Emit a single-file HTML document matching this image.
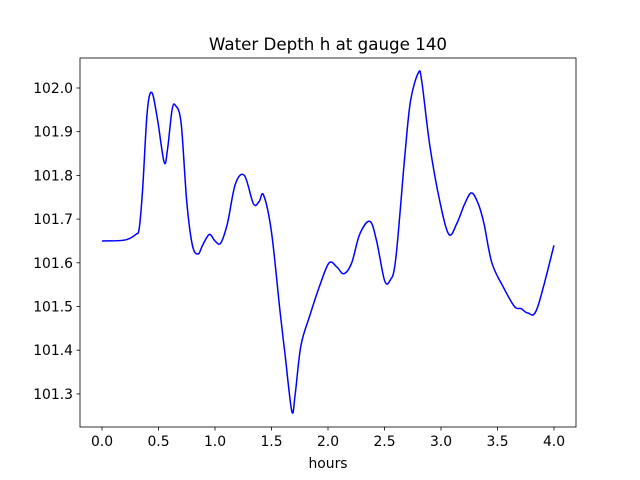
<!DOCTYPE html>
<html><head><meta charset="utf-8"><style>
body{margin:0;background:#fff;}
svg{display:block;font-family:"DejaVu Sans","Liberation Sans",sans-serif;}
</style></head><body>
<svg width="640" height="480" viewBox="0 0 640 480">
<rect x="0" y="0" width="640" height="480" fill="#fff"/>
<text x="328" y="50" text-anchor="middle" font-size="16.7">Water Depth h at gauge 140</text>
<g id="xt"></g>
<g id="yt"></g>
<path id="line" fill="none" stroke="#0000ff" stroke-width="1.5"/>
<rect x="80" y="58" width="496" height="369" fill="none" stroke="#000" stroke-width="0.8"/>
<text x="328" y="468" text-anchor="middle" font-size="13.9">hours</text>
</svg>
<script>
const hours=[0,0.2,0.3,0.33,0.36,0.4,0.44,0.49,0.55,0.58,0.62,0.65,0.7,0.75,0.8,0.85,0.89,0.95,1.0,1.05,1.11,1.18,1.26,1.34,1.39,1.43,1.5,1.575,1.62,1.68,1.71,1.76,1.84,1.93,2.01,2.08,2.14,2.21,2.28,2.37,2.43,2.5,2.55,2.6,2.68,2.73,2.8,2.83,2.9,2.99,3.07,3.14,3.21,3.27,3.33,3.38,3.45,3.55,3.65,3.71,3.77,3.85,4.0];
const depth=[101.65,101.652,101.665,101.68,101.77,101.945,101.99,101.93,101.83,101.86,101.95,101.96,101.92,101.74,101.64,101.62,101.64,101.665,101.65,101.645,101.69,101.78,101.8,101.735,101.74,101.755,101.67,101.49,101.39,101.26,101.3,101.41,101.48,101.55,101.6,101.59,101.575,101.6,101.665,101.695,101.65,101.56,101.56,101.61,101.845,101.97,102.035,102.015,101.87,101.74,101.665,101.69,101.735,101.76,101.735,101.69,101.6,101.545,101.5,101.495,101.485,101.495,101.64];
const xTicks=[0,0.5,1,1.5,2,2.5,3,3.5,4];
const yTicks=[101.3,101.4,101.5,101.6,101.7,101.8,101.9,102.0];
const X=v=>102+v*113, Y=v=>88+(102.0-v)*437;
const NS="http://www.w3.org/2000/svg";
function mk(t,a,p){const e=document.createElementNS(NS,t);for(const k in a)e.setAttribute(k,a[k]);p.appendChild(e);return e;}
const xt=document.getElementById('xt'),yt=document.getElementById('yt');
xTicks.forEach(v=>{
 const l=mk('line',{x1:X(v),x2:X(v),y1:427,y2:430.5,stroke:'#000','stroke-width':0.8},xt);
 
 
 const t=mk('text',{x:X(v),y:446,'text-anchor':'middle','font-size':13.9},xt);
 
 
 t.textContent=v.toFixed(1);
});
yTicks.forEach(v=>{
 const l=mk('line',{x1:76.5,x2:80,y1:Y(v),y2:Y(v),stroke:'#000','stroke-width':0.8},yt);
 
 
 const t=mk('text',{x:73,y:Y(v)+5,'text-anchor':'end','font-size':13.9},yt);
 
 
 t.textContent=v.toFixed(1);
});
const P=hours.map((h,i)=>[X(h),Y(depth[i])]);
let d='M'+P[0][0]+','+P[0][1];
for(let i=0;i<P.length-1;i++){
 const p0=P[Math.max(0,i-1)],p1=P[i],p2=P[i+1],p3=P[Math.min(P.length-1,i+2)];
 const c1=[p1[0]+(p2[0]-p0[0])/6,p1[1]+(p2[1]-p0[1])/6],c2=[p2[0]-(p3[0]-p1[0])/6,p2[1]-(p3[1]-p1[1])/6];
 d+=`C${c1[0]},${c1[1]} ${c2[0]},${c2[1]} ${p2[0]},${p2[1]}`;
}
document.getElementById('line').setAttribute('d',d);
</script>
</body></html>
